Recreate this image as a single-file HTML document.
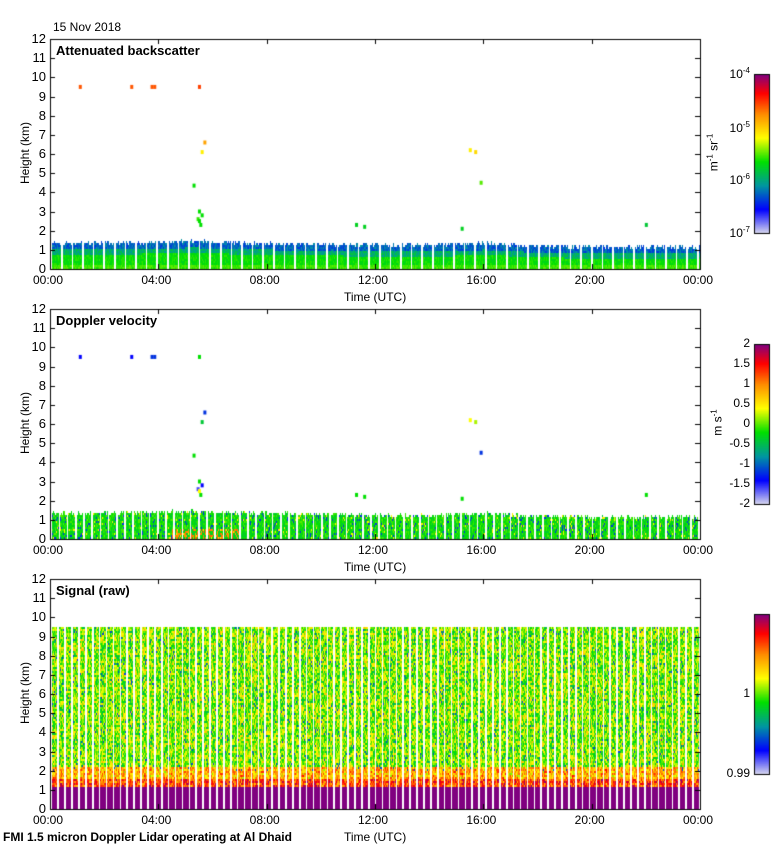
<!DOCTYPE html>
<html><head><meta charset="utf-8"><style>
body{margin:0;background:#fff;font-family:"Liberation Sans",sans-serif}
#wrap{position:relative;width:780px;height:850px;overflow:hidden}
canvas{position:absolute;left:0;top:0}
.t{position:absolute;font-size:12px;color:#000;white-space:nowrap}
</style></head><body>
<div id="wrap">
<canvas id="c" width="780" height="850"></canvas>
</div>
<script>
// ---- data ----
const hourTicks=[0,4,8,12,16,20,24];
const tickLabels=["00:00","04:00","08:00","12:00","16:00","20:00","00:00"];
const heightTicks=[0,1,2,3,4,5,6,7,8,9,10,11,12];
const profileHours=[0,2,4,5,5.5,6,8,10,12,14,15.5,16,18,20,22,24];
const blTopKm=[1.4,1.4,1.45,1.5,1.5,1.45,1.4,1.35,1.3,1.3,1.35,1.4,1.25,1.2,1.2,1.2];
const cloudT=[1.1,3.0,3.75,3.85,5.5,5.7,5.6,5.3,5.5,5.45,5.55,11.3,11.6,15.5,15.7,15.9,15.2,22.0,5.6,5.5];
const cloudH=[9.5,9.5,9.5,9.5,9.5,6.6,6.1,4.35,3.0,2.6,2.3,2.3,2.2,6.2,6.1,4.5,2.1,2.3,2.8,2.5];
const cloudBsc=[0.8,0.8,0.8,0.8,0.82,0.72,0.62,0.45,0.45,0.48,0.45,0.42,0.42,0.62,0.65,0.5,0.42,0.4,0.45,0.45];
const cloudVel=[0.15,0.15,0.2,0.2,0.45,0.2,0.4,0.45,0.45,0.1,0.45,0.45,0.45,0.6,0.55,0.2,0.45,0.45,0.15,0.6];
const signalTopKm=9.5;
const signalLayers=[[0,1.25,1.0],[1.25,1.6,0.82],[1.6,2.2,0.7],[2.2,9.5,0.53]];

// ---- helpers ----
const L=50,R=700,H=230,tops=[39,309,579];
const X=t=>L+t/24*(R-L);
const Y=(p,h)=>tops[p]+H-h/12*H;
const stops=[[0,[216,216,236]],[0.15,[0,0,255]],[0.3,[0,150,160]],[0.45,[0,224,0]],[0.6,[255,255,0]],[0.75,[255,140,0]],[0.88,[255,0,0]],[1,[128,0,128]]];
function cmap(v){v=Math.max(0,Math.min(1,v));for(let i=1;i<stops.length;i++){if(v<=stops[i][0]){const a=stops[i-1],b=stops[i],f=(v-a[0])/(b[0]-a[0]);return 'rgb('+a[1].map((c,k)=>Math.round(c+(b[1][k]-c)*f)).join(',')+')';}}return 'rgb(128,0,128)';}
function hash(a,b){let h=(a*374761393+b*668265263)|0;h=(h^(h>>>13))*1274126177|0;return ((h^(h>>>16))>>>0)/4294967295;}
function interp(xs,ys,x){for(let i=1;i<xs.length;i++)if(x<=xs[i]){const f=(x-xs[i-1])/(xs[i]-xs[i-1]);return ys[i-1]+(ys[i]-ys[i-1])*f;}return ys[ys.length-1];}
const c=document.getElementById('c').getContext('2d');
const wrap=document.getElementById('wrap');
function txt(s,x,y,opt){const d=document.createElement('div');d.className='t';d.textContent=s;d.style.left=x+'px';d.style.top=y+'px';if(opt)Object.assign(d.style,opt);

wrap.appendChild(d);return d;}

// ---- panels ----
function gap(px,period){return (px%period)<1.6;}
for(let px=L;px<R;px++){
 const t=(px-L)/(R-L)*24;
 const top=interp(profileHours,blTopKm,t);
 for(let py=0;py<H;py+=2){
  const h=(H-py)/H*12;
  const n=hash(px,py);
  const n2=hash(px>>2,py>>1);
  if(!gap(px-L,10.6) && h<top+ (hash(px,7)-0.5)*0.2){
   let v=h>top-0.35?0.2+n*0.1:(h>top-0.6?0.3+n*0.1:0.42+n*0.06);
   if(h<0.3)v=0.46+n*0.05;
   c.fillStyle=cmap(v);c.fillRect(px,tops[0]+py,1,2);
  }
  if(!gap(px-L,8.2) && h<top+(hash(px,9)-0.5)*0.2){
   let v=0.45+(n-0.5)*0.12;
   if(n>0.93)v=0.2;else if(n<0.05)v=0.62;
   if(t>4.5&&t<7&&h<0.6&&n>0.6)v=0.6+n*0.2;
   c.fillStyle=cmap(v);c.fillRect(px,tops[1]+py,1,2);
  }
  if(!gap(px-L,6.9) && h<signalTopKm){
   let v=0.5;
   for(const s of signalLayers)if(h>=s[0]&&h<s[1])v=s[2];
   if(h>1.25)v+=(n-0.5)*0.26+(n2-0.5)*0.12;
   if(n>0.97&&h>2)v=0.22;
   c.fillStyle=cmap(v);c.fillRect(px,tops[2]+py,1,2);
  }
 }
}
for(let i=0;i<cloudT.length;i++){
 c.fillStyle=cmap(cloudBsc[i]);c.fillRect(X(cloudT[i])-1,Y(0,cloudH[i])-2,3,4);
 c.fillStyle=cmap(cloudVel[i]);c.fillRect(X(cloudT[i])-1,Y(1,cloudH[i])-2,3,4);
}
c.strokeStyle='#000';c.lineWidth=1;
const titles=["Attenuated backscatter","Doppler velocity","Signal (raw)"];
for(let p=0;p<3;p++){
 const T=tops[p];
 c.strokeRect(L+0.5,T+0.5,R-L,H);
 c.beginPath();
 hourTicks.forEach((h,i)=>{const x=Math.round(X(h))+0.5;c.moveTo(x,T+H);c.lineTo(x,T+H-5);c.moveTo(x,T);c.lineTo(x,T+5);
  txt(tickLabels[i],X(h)-17,T+H+4,{name:'x-tick-label',fontSize:'12px'});});
 heightTicks.forEach(k=>{const y=Math.round(Y(p,k))+0.5;c.moveTo(L,y);c.lineTo(L+5,y);c.moveTo(R,y);c.lineTo(R-5,y);
  txt(String(k),21,Y(p,k)-8,{name:'y-tick-label',width:'25px',textAlign:'right',fontSize:'13px'});});
 c.stroke();
 txt(titles[p],56,T+4,{name:'panel-title',fontWeight:'bold',fontSize:'13px'});
 txt('Time (UTC)',344,T+H+21,{name:'x-axis-title'});
 txt('Height (km)',-10,T+H/2-8,{name:'y-axis-title',transform:'rotate(-90deg)',width:'70px',textAlign:'center'});
}
const cbs=[[754,74,159],[754,344,160],[754,614,160]];
cbs.forEach(([x,y,h])=>{for(let i=0;i<h;i++){c.fillStyle=cmap(1-i/h);c.fillRect(x,y+i,15,1);}c.strokeRect(x+0.5,y+0.5,15,h);});
[["10",-4,74],["10",-5,128],["10",-6,180],["10",-7,233]].forEach(([b,e,y])=>{const d=txt('',722,y-8,{name:'colorbar-tick-label',width:'28px',textAlign:'right'});d.innerHTML=b+'<sup style="font-size:8px">'+e+'</sup>';});
const u1=txt('',694,145,{name:'colorbar-unit',transform:'rotate(-90deg)'});u1.innerHTML='m<sup style="font-size:8px">-1</sup> sr<sup style="font-size:8px">-1</sup>';
["2","1.5","1","0.5","0","-0.5","-1","-1.5","-2"].forEach((s,i)=>txt(s,724,344+i*20-8,{name:'colorbar-tick-label',width:'26px',textAlign:'right'}));
const u2=txt('',704,415,{name:'colorbar-unit',transform:'rotate(-90deg)'});u2.innerHTML='m s<sup style="font-size:8px">-1</sup>';
txt('1',724,686,{name:'colorbar-tick-label',width:'26px',textAlign:'right'});
txt('0.99',724,766,{name:'colorbar-tick-label',width:'26px',textAlign:'right'});
txt('15 Nov 2018',53,20,{name:'date-label'});
txt('FMI 1.5 micron Doppler Lidar operating at Al Dhaid',3,830,{name:'footer-caption',fontWeight:'bold',fontSize:'12px'});
</script></body></html>
